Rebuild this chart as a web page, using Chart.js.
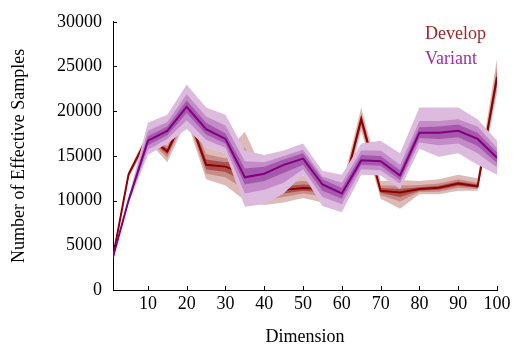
<!DOCTYPE html>
<html>
<head>
    <title>Effective samples</title>
    <script src="https://cdn.jsdelivr.net/npm/chart.js"></script>
    <style>
        html, body { margin: 0; padding: 0; background: #fff; }
        #wrap { width: 519px; height: 352px; }
    </style>
</head>
<body>
    <div id="wrap"><canvas id="myChart"></canvas></div>
    <script>
        // dimension values (x)
        const dims = [1, 5, 10, 15, 20, 25, 30, 35, 40, 45, 50, 55, 60, 65, 70, 75, 80, 85, 90, 95, 100];
        const xTicks = [10, 20, 30, 40, 50, 60, 70, 80, 90, 100];
        const yTicks = [0, 5000, 10000, 15000, 20000, 25000, 30000];

        // Develop: median and quantile bands
        const devMed   = [3700, 12900, 17200, 15500, 20000, 14000, 13800, 13000, 11000, 11200, 11400, 11300, 10600, 19100, 11100, 10900, 11300, 11450, 11900, 11600, 23800];
        const devOutLo = [3600, 12500, 16700, 14300, 19000, 12400, 11700, 10000, 9500, 9800, 10300, 9800, 9700, 17800, 10200, 9100, 10700, 10700, 11100, 11100, 22000];
        const devOutHi = [3800, 13300, 17700, 16600, 21000, 16000, 15300, 17700, 13000, 12500, 12800, 12500, 11600, 20400, 12200, 12300, 12200, 12400, 12900, 12500, 25900];
        const devMidLo = [3650, 12700, 16900, 14800, 19400, 13000, 12600, 11200, 10100, 10400, 10800, 10500, 10100, 18300, 10600, 9900, 10950, 11000, 11450, 11300, 22700];
        const devMidHi = [3750, 13100, 17500, 16100, 20600, 15200, 14700, 15900, 12200, 12000, 12200, 12000, 11100, 19800, 11700, 11700, 11750, 11900, 12400, 12000, 25000];
        const devInLo  = [3680, 12800, 17050, 15150, 19700, 13500, 13200, 12100, 10500, 10800, 11100, 10900, 10350, 18700, 10850, 10400, 11100, 11200, 11650, 11450, 23200];
        const devInHi  = [3720, 13000, 17350, 15800, 20300, 14600, 14300, 14500, 11600, 11600, 11800, 11700, 10850, 19500, 11400, 11300, 11500, 11650, 12150, 11800, 24400];

        // Variant: median and quantile bands
        const varMed   = [3700, 10000, 16700, 17800, 20500, 18000, 16900, 12600, 13000, 14000, 14700, 11800, 10800, 14500, 14400, 12800, 17600, 17600, 17800, 16900, 14800];
        const varOutLo = [3600, 9700, 15100, 16400, 18000, 16000, 15300, 9300, 9600, 10800, 12900, 9400, 8700, 12900, 12800, 11300, 15800, 14900, 15300, 14000, 12900];
        const varOutHi = [3800, 10400, 18700, 19600, 23000, 20400, 19600, 15600, 15100, 15600, 16400, 13300, 12900, 16400, 16700, 15300, 20400, 20400, 20400, 19100, 16700];
        const varMidLo = [3650, 9800, 15700, 16900, 19000, 16800, 15900, 10800, 11200, 12000, 13500, 10400, 9600, 13500, 13400, 11900, 16500, 16200, 16400, 15300, 13700];
        const varMidHi = [3750, 10200, 17800, 18800, 21900, 19400, 18400, 14400, 14300, 15000, 15700, 12700, 12000, 15600, 15600, 14000, 18900, 18900, 19100, 18300, 15900];
        const varInLo  = [3680, 9900, 16200, 17300, 19800, 17400, 16400, 11800, 12200, 13100, 14000, 11100, 10200, 14000, 13900, 12300, 17000, 16900, 17100, 16100, 14200];
        const varInHi  = [3720, 10100, 17200, 18300, 21200, 18700, 17500, 13600, 13800, 14600, 15300, 12400, 11400, 15100, 15000, 13400, 18200, 18300, 18500, 17600, 15400];

        function pts(vals) {
            return dims.map((d, i) => ({ x: d, y: vals[i] }));
        }

        const datasets = [];
        // order: lower number is drawn on top
        function addBand(lo, hi, color, order) {
            const loIdx = datasets.length;
            datasets.push({ data: pts(lo), borderWidth: 0, pointRadius: 0, fill: false, order: order });
            datasets.push({ data: pts(hi), borderWidth: 0, pointRadius: 0, fill: loIdx, backgroundColor: color, order: order });
        }

        // develop bands (bottom), then develop median, then variant on top
        addBand(devOutLo, devOutHi, 'rgb(222,186,182)', 10);
        addBand(devMidLo, devMidHi, 'rgb(200,140,136)', 9);
        addBand(devInLo, devInHi, 'rgb(170,80,76)', 8);
        datasets.push({ label: 'Develop', data: pts(devMed), borderColor: 'rgb(139,0,0)', backgroundColor: 'rgb(139,0,0)',
            borderWidth: 2, pointRadius: 0, fill: false, order: 7, textColor: 'rgb(160,40,40)' });
        addBand(varOutLo, varOutHi, 'rgb(221,187,223)', 6);
        addBand(varMidLo, varMidHi, 'rgb(195,140,200)', 5);
        addBand(varInLo, varInHi, 'rgb(165,88,172)', 4);
        datasets.push({ label: 'Variant', data: pts(varMed), borderColor: 'rgb(128,0,128)', backgroundColor: 'rgb(128,0,128)',
            borderWidth: 2, pointRadius: 0, fill: false, order: 1, textColor: 'rgb(155,45,170)' });

        const FONT = "'Liberation Serif', 'DejaVu Serif', serif";

        // inward tick marks and a text legend
        const extras = {
            id: 'extras',
            afterDraw(chart) {
                const ctx = chart.ctx;
                const xs = chart.scales.x, ys = chart.scales.y;
                const a = chart.chartArea;
                ctx.save();
                ctx.strokeStyle = '#000';
                ctx.lineWidth = 1;
                ctx.beginPath();
                xTicks.forEach(v => {
                    const px = Math.round(xs.getPixelForValue(v)) + 0.5;
                    ctx.moveTo(px, a.bottom);
                    ctx.lineTo(px, a.bottom - 4);
                });
                yTicks.forEach(v => {
                    const py = Math.round(ys.getPixelForValue(v)) + 0.5;
                    ctx.moveTo(a.left, py);
                    ctx.lineTo(a.left + 4, py);
                });
                ctx.stroke();

                // legend
                ctx.font = '18px ' + FONT;
                ctx.textBaseline = 'middle';
                ctx.textAlign = 'left';
                const named = chart.data.datasets.filter(d => d.label);
                named.forEach((d, i) => {
                    ctx.fillStyle = d.textColor;
                    ctx.fillText(d.label, a.right - 72, a.top + 12 + i * 25);
                });
                ctx.restore();
            }
        };

        const ctx = document.getElementById('myChart').getContext('2d');
        new Chart(ctx, {
            type: 'line',
            data: { datasets: datasets },
            plugins: [extras],
            options: {
                responsive: true,
                maintainAspectRatio: false,
                animation: false,
                layout: { padding: { top: 15, right: 22, left: 4, bottom: 0 } },
                elements: { line: { tension: 0 } },
                plugins: {
                    legend: { display: false },
                    tooltip: { enabled: false },
                    filler: { propagate: false }
                },
                scales: {
                    x: {
                        type: 'linear',
                        min: 1,
                        max: 100,
                        afterBuildTicks: s => { s.ticks = xTicks.map(v => ({ value: v })); },
                        afterFit: s => { s.height = 62; },
                        grid: { display: true, drawOnChartArea: false, drawTicks: false, color: '#000' },
                        border: { display: true, color: '#000', width: 1 },
                        ticks: { color: '#000', padding: 3, font: { family: FONT, size: 18 }, callback: v => String(v) },
                        title: { display: true, text: 'Dimension', color: '#000', font: { family: FONT, size: 18 }, padding: { top: 4 } }
                    },
                    y: {
                        min: 0,
                        max: 30000,
                        afterBuildTicks: s => { s.ticks = yTicks.map(v => ({ value: v })); },
                        afterFit: s => { s.width = 109; },
                        grid: { display: true, drawOnChartArea: false, drawTicks: false, color: '#000' },
                        border: { display: true, color: '#000', width: 1 },
                        ticks: { color: '#000', padding: 11, font: { family: FONT, size: 18 }, callback: v => String(v) },
                        title: { display: true, text: 'Number of Effective Samples', color: '#000', font: { family: FONT, size: 18 }, padding: { bottom: 0 } }
                    }
                }
            }
        });
    </script>
</body>
</html>
